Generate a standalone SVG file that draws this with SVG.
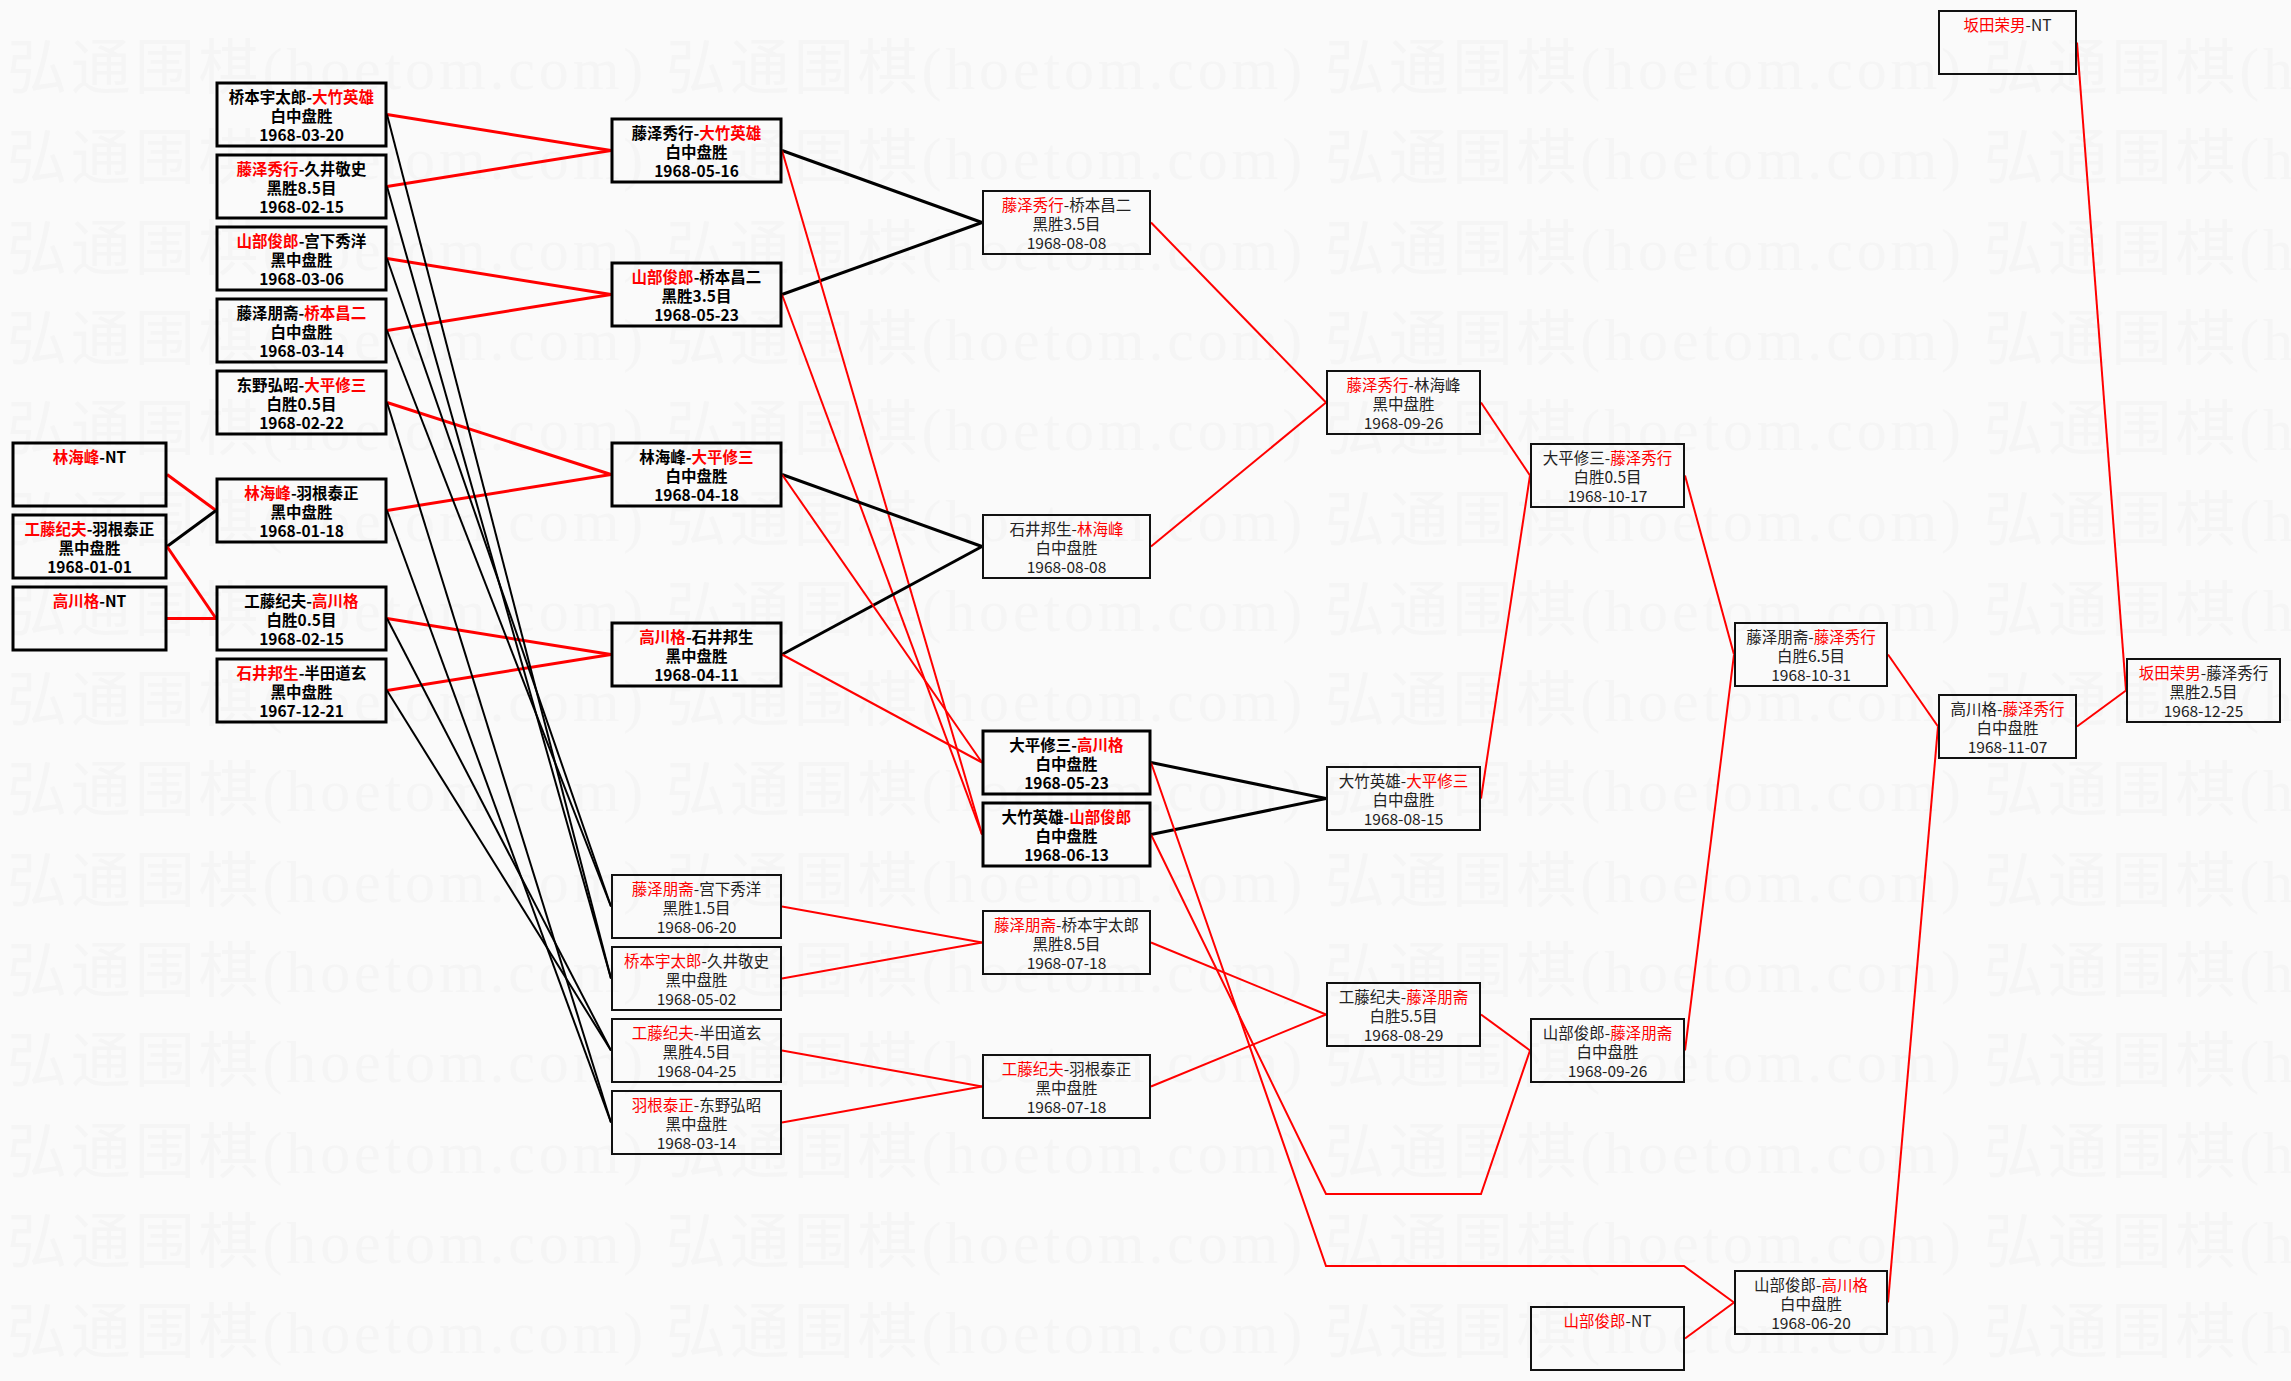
<svg xmlns="http://www.w3.org/2000/svg" width="2291" height="1381" viewBox="0 0 2291 1381">
<style>
.bg{fill:#fafafa}
.wm{font-family:"Liberation Serif","Noto Sans CJK SC",serif;font-size:60px;fill:#f5f5f5}
.bt{fill:none;stroke:#000;stroke-width:3}
.bn{fill:none;stroke:#111;stroke-width:2}
.tt{font-family:"Noto Sans CJK SC","Noto Sans",sans-serif;font-size:15.5px;font-weight:bold;fill:#000;text-anchor:middle}
.tn{font-family:"Noto Sans CJK SC","Noto Sans",sans-serif;font-size:15.5px;fill:#222;text-anchor:middle}
.r{fill:#f00}
.lr{fill:none;stroke:#f00;stroke-width:2}
.lr3{fill:none;stroke:#f00;stroke-width:3}
.lk{fill:none;stroke:#000;stroke-width:2}
.lk3{fill:none;stroke:#000;stroke-width:3}
</style>
<rect class="bg" x="0" y="0" width="2291" height="1381"/>
<g id="watermark" class="wm">
<text x="7" y="89" textLength="2613" lengthAdjust="spacing">弘通围棋(hoetom.com) 弘通围棋(hoetom.com) 弘通围棋(hoetom.com) 弘通围棋(hoetom.com)</text>
<text x="7" y="179" textLength="2613" lengthAdjust="spacing">弘通围棋(hoetom.com) 弘通围棋(hoetom.com) 弘通围棋(hoetom.com) 弘通围棋(hoetom.com)</text>
<text x="7" y="270" textLength="2613" lengthAdjust="spacing">弘通围棋(hoetom.com) 弘通围棋(hoetom.com) 弘通围棋(hoetom.com) 弘通围棋(hoetom.com)</text>
<text x="7" y="360" textLength="2613" lengthAdjust="spacing">弘通围棋(hoetom.com) 弘通围棋(hoetom.com) 弘通围棋(hoetom.com) 弘通围棋(hoetom.com)</text>
<text x="7" y="450" textLength="2613" lengthAdjust="spacing">弘通围棋(hoetom.com) 弘通围棋(hoetom.com) 弘通围棋(hoetom.com) 弘通围棋(hoetom.com)</text>
<text x="7" y="541" textLength="2613" lengthAdjust="spacing">弘通围棋(hoetom.com) 弘通围棋(hoetom.com) 弘通围棋(hoetom.com) 弘通围棋(hoetom.com)</text>
<text x="7" y="631" textLength="2613" lengthAdjust="spacing">弘通围棋(hoetom.com) 弘通围棋(hoetom.com) 弘通围棋(hoetom.com) 弘通围棋(hoetom.com)</text>
<text x="7" y="721" textLength="2613" lengthAdjust="spacing">弘通围棋(hoetom.com) 弘通围棋(hoetom.com) 弘通围棋(hoetom.com) 弘通围棋(hoetom.com)</text>
<text x="7" y="811" textLength="2613" lengthAdjust="spacing">弘通围棋(hoetom.com) 弘通围棋(hoetom.com) 弘通围棋(hoetom.com) 弘通围棋(hoetom.com)</text>
<text x="7" y="902" textLength="2613" lengthAdjust="spacing">弘通围棋(hoetom.com) 弘通围棋(hoetom.com) 弘通围棋(hoetom.com) 弘通围棋(hoetom.com)</text>
<text x="7" y="992" textLength="2613" lengthAdjust="spacing">弘通围棋(hoetom.com) 弘通围棋(hoetom.com) 弘通围棋(hoetom.com) 弘通围棋(hoetom.com)</text>
<text x="7" y="1082" textLength="2613" lengthAdjust="spacing">弘通围棋(hoetom.com) 弘通围棋(hoetom.com) 弘通围棋(hoetom.com) 弘通围棋(hoetom.com)</text>
<text x="7" y="1173" textLength="2613" lengthAdjust="spacing">弘通围棋(hoetom.com) 弘通围棋(hoetom.com) 弘通围棋(hoetom.com) 弘通围棋(hoetom.com)</text>
<text x="7" y="1263" textLength="2613" lengthAdjust="spacing">弘通围棋(hoetom.com) 弘通围棋(hoetom.com) 弘通围棋(hoetom.com) 弘通围棋(hoetom.com)</text>
<text x="7" y="1353" textLength="2613" lengthAdjust="spacing">弘通围棋(hoetom.com) 弘通围棋(hoetom.com) 弘通围棋(hoetom.com) 弘通围棋(hoetom.com)</text>
</g>
<g id="connectors">
<line class="lr3" x1="167" y1="474.5" x2="216" y2="510.5"/>
<line class="lk3" x1="167" y1="546.5" x2="216" y2="510.5"/>
<line class="lr3" x1="167" y1="546.5" x2="216" y2="618.5"/>
<line class="lr3" x1="167" y1="618.5" x2="216" y2="618.5"/>
<line class="lr3" x1="387" y1="114.5" x2="611" y2="150.5"/>
<line class="lr3" x1="387" y1="186.5" x2="611" y2="150.5"/>
<line class="lr3" x1="387" y1="258.5" x2="611" y2="294.5"/>
<line class="lr3" x1="387" y1="330.5" x2="611" y2="294.5"/>
<line class="lr3" x1="387" y1="402.5" x2="611" y2="474.5"/>
<line class="lr3" x1="387" y1="510.5" x2="611" y2="474.5"/>
<line class="lr3" x1="387" y1="618.5" x2="611" y2="654.5"/>
<line class="lr3" x1="387" y1="690.5" x2="611" y2="654.5"/>
<line class="lk" x1="387" y1="114.5" x2="611" y2="978.5"/>
<line class="lk" x1="387" y1="186.5" x2="611" y2="978.5"/>
<line class="lk" x1="387" y1="258.5" x2="611" y2="906.5"/>
<line class="lk" x1="387" y1="330.5" x2="611" y2="906.5"/>
<line class="lk" x1="387" y1="402.5" x2="611" y2="1122.5"/>
<line class="lk" x1="387" y1="510.5" x2="611" y2="1122.5"/>
<line class="lk" x1="387" y1="618.5" x2="611" y2="1050.5"/>
<line class="lk" x1="387" y1="690.5" x2="611" y2="1050.5"/>
<line class="lk3" x1="782" y1="150.5" x2="982" y2="222.5"/>
<line class="lk3" x1="782" y1="294.5" x2="982" y2="222.5"/>
<line class="lr" x1="782" y1="150.5" x2="982" y2="834.5"/>
<line class="lr" x1="782" y1="294.5" x2="982" y2="834.5"/>
<line class="lk3" x1="782" y1="474.5" x2="982" y2="546.5"/>
<line class="lk3" x1="782" y1="654.5" x2="982" y2="546.5"/>
<line class="lr" x1="782" y1="474.5" x2="982" y2="762.5"/>
<line class="lr" x1="782" y1="654.5" x2="982" y2="762.5"/>
<line class="lr" x1="782" y1="906.5" x2="982" y2="942.5"/>
<line class="lr" x1="782" y1="978.5" x2="982" y2="942.5"/>
<line class="lr" x1="782" y1="1050.5" x2="982" y2="1086.5"/>
<line class="lr" x1="782" y1="1122.5" x2="982" y2="1086.5"/>
<line class="lr" x1="1151" y1="222.5" x2="1326" y2="402.5"/>
<line class="lr" x1="1151" y1="546.5" x2="1326" y2="402.5"/>
<line class="lk3" x1="1151" y1="762.5" x2="1326" y2="798.5"/>
<line class="lk3" x1="1151" y1="834.5" x2="1326" y2="798.5"/>
<line class="lr" x1="1151" y1="942.5" x2="1326" y2="1014.5"/>
<line class="lr" x1="1151" y1="1086.5" x2="1326" y2="1014.5"/>
<polyline class="lr" points="1151,762.5 1326,1266 1684,1266 1734,1302.5"/>
<polyline class="lr" points="1151,834.5 1326,1194 1481,1194 1530,1050.5"/>
<line class="lr" x1="1481" y1="402.5" x2="1530" y2="475.5"/>
<line class="lr" x1="1481" y1="798.5" x2="1530" y2="475.5"/>
<line class="lr" x1="1481" y1="1014.5" x2="1530" y2="1050.5"/>
<line class="lr" x1="1685" y1="475.5" x2="1734" y2="654.5"/>
<line class="lr" x1="1685" y1="1050.5" x2="1734" y2="654.5"/>
<line class="lr" x1="1685" y1="1338.5" x2="1734" y2="1302.5"/>
<line class="lr" x1="1888" y1="654.5" x2="1938" y2="726.5"/>
<line class="lr" x1="1888" y1="1302.5" x2="1938" y2="726.5"/>
<line class="lr" x1="2077" y1="726.5" x2="2126" y2="690.5"/>
<line class="lr" x1="2077" y1="42.5" x2="2126" y2="690.5"/>
</g>
<g id="A1"><rect class="bt" x="13" y="443" width="153" height="63"/><text class="tt" x="89.5" y="462.5"><tspan class="r">林海峰</tspan>-NT</text></g>
<g id="A2"><rect class="bt" x="13" y="515" width="153" height="63"/><text class="tt" x="89.5" y="534.5"><tspan class="r">工藤纪夫</tspan>-羽根泰正</text><text class="tt" x="89.5" y="554">黑中盘胜</text><text class="tt" x="89.5" y="572.5">1968-01-01</text></g>
<g id="A3"><rect class="bt" x="13" y="587" width="153" height="63"/><text class="tt" x="89.5" y="606.5"><tspan class="r">高川格</tspan>-NT</text></g>
<g id="B1"><rect class="bt" x="217" y="83" width="169" height="63"/><text class="tt" x="301.5" y="102.5">桥本宇太郎-<tspan class="r">大竹英雄</tspan></text><text class="tt" x="301.5" y="122">白中盘胜</text><text class="tt" x="301.5" y="140.5">1968-03-20</text></g>
<g id="B2"><rect class="bt" x="217" y="155" width="169" height="63"/><text class="tt" x="301.5" y="174.5"><tspan class="r">藤泽秀行</tspan>-久井敬史</text><text class="tt" x="301.5" y="194">黑胜8.5目</text><text class="tt" x="301.5" y="212.5">1968-02-15</text></g>
<g id="B3"><rect class="bt" x="217" y="227" width="169" height="63"/><text class="tt" x="301.5" y="246.5"><tspan class="r">山部俊郎</tspan>-宫下秀洋</text><text class="tt" x="301.5" y="266">黑中盘胜</text><text class="tt" x="301.5" y="284.5">1968-03-06</text></g>
<g id="B4"><rect class="bt" x="217" y="299" width="169" height="63"/><text class="tt" x="301.5" y="318.5">藤泽朋斋-<tspan class="r">桥本昌二</tspan></text><text class="tt" x="301.5" y="338">白中盘胜</text><text class="tt" x="301.5" y="356.5">1968-03-14</text></g>
<g id="B5"><rect class="bt" x="217" y="371" width="169" height="63"/><text class="tt" x="301.5" y="390.5">东野弘昭-<tspan class="r">大平修三</tspan></text><text class="tt" x="301.5" y="410">白胜0.5目</text><text class="tt" x="301.5" y="428.5">1968-02-22</text></g>
<g id="B6"><rect class="bt" x="217" y="479" width="169" height="63"/><text class="tt" x="301.5" y="498.5"><tspan class="r">林海峰</tspan>-羽根泰正</text><text class="tt" x="301.5" y="518">黑中盘胜</text><text class="tt" x="301.5" y="536.5">1968-01-18</text></g>
<g id="B7"><rect class="bt" x="217" y="587" width="169" height="63"/><text class="tt" x="301.5" y="606.5">工藤纪夫-<tspan class="r">高川格</tspan></text><text class="tt" x="301.5" y="626">白胜0.5目</text><text class="tt" x="301.5" y="644.5">1968-02-15</text></g>
<g id="B8"><rect class="bt" x="217" y="659" width="169" height="63"/><text class="tt" x="301.5" y="678.5"><tspan class="r">石井邦生</tspan>-半田道玄</text><text class="tt" x="301.5" y="698">黑中盘胜</text><text class="tt" x="301.5" y="716.5">1967-12-21</text></g>
<g id="C1"><rect class="bt" x="612" y="119" width="169" height="63"/><text class="tt" x="696.5" y="138.5">藤泽秀行-<tspan class="r">大竹英雄</tspan></text><text class="tt" x="696.5" y="158">白中盘胜</text><text class="tt" x="696.5" y="176.5">1968-05-16</text></g>
<g id="C2"><rect class="bt" x="612" y="263" width="169" height="63"/><text class="tt" x="696.5" y="282.5"><tspan class="r">山部俊郎</tspan>-桥本昌二</text><text class="tt" x="696.5" y="302">黑胜3.5目</text><text class="tt" x="696.5" y="320.5">1968-05-23</text></g>
<g id="C3"><rect class="bt" x="612" y="443" width="169" height="63"/><text class="tt" x="696.5" y="462.5">林海峰-<tspan class="r">大平修三</tspan></text><text class="tt" x="696.5" y="482">白中盘胜</text><text class="tt" x="696.5" y="500.5">1968-04-18</text></g>
<g id="C4"><rect class="bt" x="612" y="623" width="169" height="63"/><text class="tt" x="696.5" y="642.5"><tspan class="r">高川格</tspan>-石井邦生</text><text class="tt" x="696.5" y="662">黑中盘胜</text><text class="tt" x="696.5" y="680.5">1968-04-11</text></g>
<g id="C5"><rect class="bn" x="612" y="875" width="169" height="63"/><text class="tn" x="696.5" y="894.5"><tspan class="r">藤泽朋斋</tspan>-宫下秀洋</text><text class="tn" x="696.5" y="914">黑胜1.5目</text><text class="tn" x="696.5" y="932.5">1968-06-20</text></g>
<g id="C6"><rect class="bn" x="612" y="947" width="169" height="63"/><text class="tn" x="696.5" y="966.5"><tspan class="r">桥本宇太郎</tspan>-久井敬史</text><text class="tn" x="696.5" y="986">黑中盘胜</text><text class="tn" x="696.5" y="1004.5">1968-05-02</text></g>
<g id="C7"><rect class="bn" x="612" y="1019" width="169" height="63"/><text class="tn" x="696.5" y="1038.5"><tspan class="r">工藤纪夫</tspan>-半田道玄</text><text class="tn" x="696.5" y="1058">黑胜4.5目</text><text class="tn" x="696.5" y="1076.5">1968-04-25</text></g>
<g id="C8"><rect class="bn" x="612" y="1091" width="169" height="63"/><text class="tn" x="696.5" y="1110.5"><tspan class="r">羽根泰正</tspan>-东野弘昭</text><text class="tn" x="696.5" y="1130">黑中盘胜</text><text class="tn" x="696.5" y="1148.5">1968-03-14</text></g>
<g id="D1"><rect class="bn" x="983" y="191" width="167" height="63"/><text class="tn" x="1066.5" y="210.5"><tspan class="r">藤泽秀行</tspan>-桥本昌二</text><text class="tn" x="1066.5" y="230">黑胜3.5目</text><text class="tn" x="1066.5" y="248.5">1968-08-08</text></g>
<g id="D2"><rect class="bn" x="983" y="515" width="167" height="63"/><text class="tn" x="1066.5" y="534.5">石井邦生-<tspan class="r">林海峰</tspan></text><text class="tn" x="1066.5" y="554">白中盘胜</text><text class="tn" x="1066.5" y="572.5">1968-08-08</text></g>
<g id="D3"><rect class="bt" x="983" y="731" width="167" height="63"/><text class="tt" x="1066.5" y="750.5">大平修三-<tspan class="r">高川格</tspan></text><text class="tt" x="1066.5" y="770">白中盘胜</text><text class="tt" x="1066.5" y="788.5">1968-05-23</text></g>
<g id="D4"><rect class="bt" x="983" y="803" width="167" height="63"/><text class="tt" x="1066.5" y="822.5">大竹英雄-<tspan class="r">山部俊郎</tspan></text><text class="tt" x="1066.5" y="842">白中盘胜</text><text class="tt" x="1066.5" y="860.5">1968-06-13</text></g>
<g id="D5"><rect class="bn" x="983" y="911" width="167" height="63"/><text class="tn" x="1066.5" y="930.5"><tspan class="r">藤泽朋斋</tspan>-桥本宇太郎</text><text class="tn" x="1066.5" y="950">黑胜8.5目</text><text class="tn" x="1066.5" y="968.5">1968-07-18</text></g>
<g id="D6"><rect class="bn" x="983" y="1055" width="167" height="63"/><text class="tn" x="1066.5" y="1074.5"><tspan class="r">工藤纪夫</tspan>-羽根泰正</text><text class="tn" x="1066.5" y="1094">黑中盘胜</text><text class="tn" x="1066.5" y="1112.5">1968-07-18</text></g>
<g id="E1"><rect class="bn" x="1327" y="371" width="153" height="63"/><text class="tn" x="1403.5" y="390.5"><tspan class="r">藤泽秀行</tspan>-林海峰</text><text class="tn" x="1403.5" y="410">黑中盘胜</text><text class="tn" x="1403.5" y="428.5">1968-09-26</text></g>
<g id="E2"><rect class="bn" x="1327" y="767" width="153" height="63"/><text class="tn" x="1403.5" y="786.5">大竹英雄-<tspan class="r">大平修三</tspan></text><text class="tn" x="1403.5" y="806">白中盘胜</text><text class="tn" x="1403.5" y="824.5">1968-08-15</text></g>
<g id="E3"><rect class="bn" x="1327" y="983" width="153" height="63"/><text class="tn" x="1403.5" y="1002.5">工藤纪夫-<tspan class="r">藤泽朋斋</tspan></text><text class="tn" x="1403.5" y="1022">白胜5.5目</text><text class="tn" x="1403.5" y="1040.5">1968-08-29</text></g>
<g id="F1"><rect class="bn" x="1531" y="444" width="153" height="63"/><text class="tn" x="1607.5" y="463.5">大平修三-<tspan class="r">藤泽秀行</tspan></text><text class="tn" x="1607.5" y="483">白胜0.5目</text><text class="tn" x="1607.5" y="501.5">1968-10-17</text></g>
<g id="F2"><rect class="bn" x="1531" y="1019" width="153" height="63"/><text class="tn" x="1607.5" y="1038.5">山部俊郎-<tspan class="r">藤泽朋斋</tspan></text><text class="tn" x="1607.5" y="1058">白中盘胜</text><text class="tn" x="1607.5" y="1076.5">1968-09-26</text></g>
<g id="F3"><rect class="bn" x="1531" y="1307" width="153" height="63"/><text class="tn" x="1607.5" y="1326.5"><tspan class="r">山部俊郎</tspan>-NT</text></g>
<g id="G1"><rect class="bn" x="1735" y="623" width="152" height="63"/><text class="tn" x="1811" y="642.5">藤泽朋斋-<tspan class="r">藤泽秀行</tspan></text><text class="tn" x="1811" y="662">白胜6.5目</text><text class="tn" x="1811" y="680.5">1968-10-31</text></g>
<g id="G2"><rect class="bn" x="1735" y="1271" width="152" height="63"/><text class="tn" x="1811" y="1290.5">山部俊郎-<tspan class="r">高川格</tspan></text><text class="tn" x="1811" y="1310">白中盘胜</text><text class="tn" x="1811" y="1328.5">1968-06-20</text></g>
<g id="H1"><rect class="bn" x="1939" y="695" width="137" height="63"/><text class="tn" x="2007.5" y="714.5">高川格-<tspan class="r">藤泽秀行</tspan></text><text class="tn" x="2007.5" y="734">白中盘胜</text><text class="tn" x="2007.5" y="752.5">1968-11-07</text></g>
<g id="H2"><rect class="bn" x="1939" y="11" width="137" height="63"/><text class="tn" x="2007.5" y="30.5"><tspan class="r">坂田荣男</tspan>-NT</text></g>
<g id="I1"><rect class="bn" x="2127" y="659" width="153" height="63"/><text class="tn" x="2203.5" y="678.5"><tspan class="r">坂田荣男</tspan>-藤泽秀行</text><text class="tn" x="2203.5" y="698">黑胜2.5目</text><text class="tn" x="2203.5" y="716.5">1968-12-25</text></g>
</svg>
